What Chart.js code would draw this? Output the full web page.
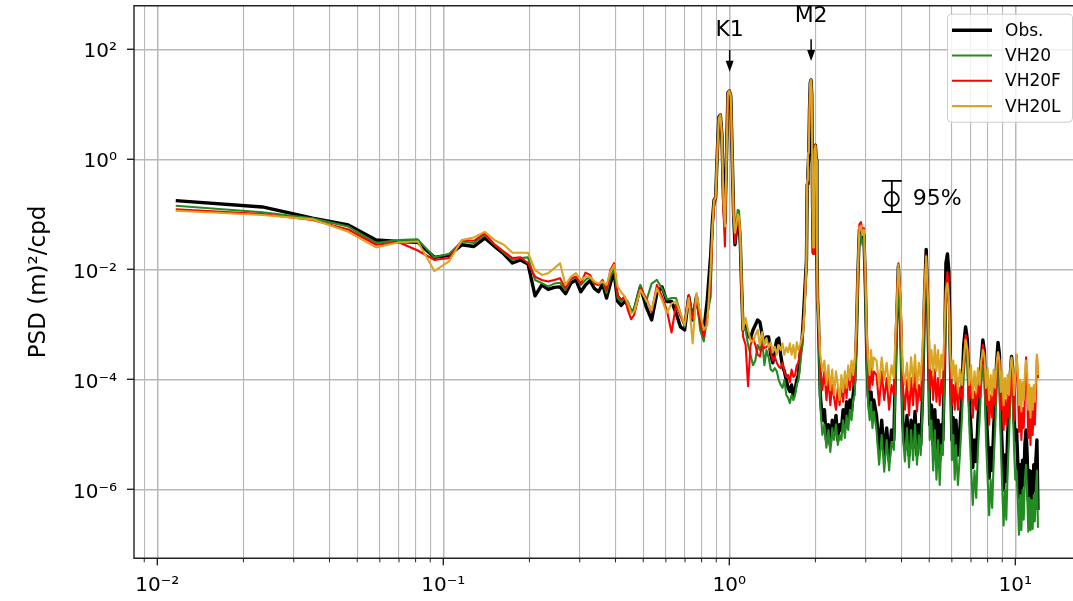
<!DOCTYPE html>
<html>
<head>
<meta charset="utf-8">
<script src="https://cdn.jsdelivr.net/npm/chart.js@4.4.1/dist/chart.umd.min.js"></script>
<style>
  html, body { margin: 0; padding: 0; background: #fff; }
</style>
</head>
<body>
<canvas id="psd" width="1073" height="601"></canvas>
<script>
// frequencies (cpd)
const freq = [
  0.0116, 0.0233, 0.0349, 0.0465, 0.0582, 0.0698, 0.0814, 0.093, 0.1047, 0.1163,
  0.1279, 0.1396, 0.1512, 0.1628, 0.1745, 0.1861, 0.1977, 0.2093, 0.221, 0.2326,
  0.2442, 0.2559, 0.2675, 0.2791, 0.2908, 0.3024, 0.314, 0.3256, 0.3373, 0.3489,
  0.3605, 0.3722, 0.3838, 0.3954, 0.407, 0.4187, 0.4303, 0.4419, 0.4536, 0.4652,
  0.4885, 0.5117, 0.535, 0.5582, 0.5815, 0.6048, 0.628, 0.6513, 0.6745, 0.6978, 0.7211, 0.7443, 0.7676, 0.7908, 0.8141, 0.8374, 0.8606,
  0.8723, 0.8839, 0.8955, 0.9072, 0.9188, 0.9304, 0.942, 0.9537, 0.9653, 0.9769, 0.9886, 1.0002, 1.0118, 1.0234, 1.0351, 1.0467, 1.0583, 1.07, 1.0816, 1.0932, 1.1048, 1.1165,
  1.14, 1.163, 1.186, 1.21, 1.233, 1.256, 1.279, 1.303, 1.326, 1.349, 1.372, 1.396, 1.419, 1.442, 1.465, 1.489, 1.512, 1.535, 1.558, 1.582, 1.605, 1.628, 1.651, 1.675, 1.698, 1.721, 1.744, 1.768, 1.791, 1.814, 1.837,
  1.861, 1.872, 1.884, 1.896, 1.907, 1.919, 1.93, 1.942, 1.954, 1.965, 1.977, 1.989, 2.0, 2.012, 2.024, 2.035, 2.047,
  2.08, 2.115, 2.15, 2.185, 2.22, 2.255, 2.29, 2.325, 2.36, 2.395, 2.43, 2.465, 2.5, 2.535, 2.57, 2.605, 2.64, 2.675, 2.71, 2.745, 2.78, 2.815, 2.85, 2.885, 2.92, 2.955, 2.99, 3.025, 3.06, 3.095, 3.13, 3.165, 3.2,
  3.27, 3.34, 3.41, 3.48, 3.55, 3.62, 3.69, 3.76, 3.83, 3.9, 3.97, 4.04, 4.11, 4.18, 4.25, 4.32, 4.39, 4.46, 4.53, 4.6, 4.67, 4.74, 4.81, 4.88, 4.95, 5.02, 5.09, 5.16, 5.23, 5.3, 5.37, 5.44, 5.51, 5.58, 5.65, 5.72, 5.79, 5.86, 5.93, 6.0, 6.07, 6.14,
  6.2, 6.3, 6.4, 6.5, 6.6, 6.7, 6.8, 6.9, 7.0, 7.1, 7.2, 7.3, 7.4, 7.5, 7.6, 7.7, 7.8, 7.9, 8.0, 8.1,
  8.2, 8.3, 8.4, 8.5, 8.6, 8.7, 8.8, 8.9, 9.0, 9.1, 9.2, 9.3, 9.4, 9.5, 9.6, 9.7, 9.8, 9.9, 10.0, 10.1,
  10.2, 10.3, 10.4, 10.5, 10.6, 10.7, 10.8, 10.9, 11.0, 11.1, 11.2, 11.3, 11.4, 11.5, 11.6, 11.7, 11.8, 11.9, 12.0
];

// PSD (m)^2/cpd
const obs = [
  0.177, 0.136, 0.085, 0.064, 0.034, 0.032, 0.031, 0.0165, 0.018, 0.028,
  0.026, 0.037, 0.026, 0.019, 0.013, 0.0148, 0.0125, 0.0033, 0.0052, 0.0043,
  0.0047, 0.0048, 0.0036, 0.0056, 0.0064, 0.0039, 0.0052, 0.0062, 0.0045, 0.0039,
  0.0054, 0.003, 0.0055, 0.009, 0.0026, 0.0022, 0.0026, 0.0023, 0.0017, 0.0018,
  0.0048, 0.0021, 0.0012, 0.0037, 0.0048, 0.0026, 0.0026, 0.0016, 9e-4, 7.9e-4, 0.0032, 0.0012, 0.0032, 0.0012, 7.4e-4, 0.0028, 0.018,
  0.072, 0.18, 0.2, 1.2, 5.8, 6.4, 2.8, 0.2, 0.07, 1.0, 16, 17.5, 14, 1.2, 0.1, 0.028, 0.052, 0.079, 0.072, 0.028, 0.0042, 7.9e-4,
  9.7e-4, 6.4e-4, 5.6e-4, 7.9e-4, 9.7e-4, 0.0012, 0.0011, 6.4e-4, 4.6e-4, 5.9e-4, 5.9e-4, 2.8e-4, 2e-4, 3.4e-4, 5.2e-4, 5.6e-4, 2.8e-4, 1.7e-4, 1.4e-4, 9.7e-5, 7e-5, 6e-5, 7.9e-5, 4.7e-5, 6.4e-5, 9.7e-5, 1.2e-4, 2.8e-4, 4.2e-4, 0.0012, 0.0042,
  0.0148, 0.35, 0.6, 1.2, 7.9, 25, 27.7, 15, 0.18, 0.02, 0.18, 1.5, 1.8, 0.97, 0.02, 0.0028, 0.0015,
  5.2e-5, 1.8e-5, 2.8e-5, 7.9e-6, 1.5e-5, 6.4e-6, 1.8e-5, 1.1e-5, 2.2e-5, 7.9e-6, 1.5e-5, 1.2e-5, 2.8e-5, 1.3e-5, 3.9e-5, 1.8e-5, 4.2e-5, 2.6e-5, 5.2e-5, 9.7e-5,
  5.2e-4, 0.0079, 0.052, 0.056, 0.037, 0.042, 0.0052, 2.8e-4, 5.2e-5, 2.8e-5, 5.9e-5, 2.2e-5, 4.2e-5,
  2.2e-5, 5.2e-6, 1.8e-5, 4.2e-6, 1.3e-5, 3.4e-6, 1.2e-5, 7.9e-6, 5.2e-4, 0.0115, 0.0012, 1.8e-5, 5.2e-6, 2.2e-5, 4.2e-6, 1.8e-5, 5.7e-6, 2.6e-5, 4.2e-6, 1.5e-5,
  6.4e-6, 5.2e-5, 0.0028, 0.023, 0.0015, 1.5e-5, 3.4e-5, 6.4e-6, 2.8e-5, 5.2e-6, 1.8e-5, 3.4e-6, 1.5e-5, 7.9e-6, 1.5e-4, 0.013, 0.019, 0.0089, 2.2e-4, 7.9e-6, 2e-5, 3.8e-6,
  1.8e-5, 4.2e-6, 1.2e-5, 5.2e-5, 4.2e-4, 9e-4, 5.2e-4, 4.2e-5, 1.2e-5, 2.5e-6, 7.9e-6, 3.2e-6, 1.8e-5, 5.2e-5, 2.2e-4, 5.2e-4, 3.1e-4, 2.8e-5, 7.9e-6, 1.6e-6,
  5.7e-6, 2.2e-6, 1.3e-5, 4.2e-5, 2e-4, 4.7e-4, 2.8e-4, 2.2e-5, 5.2e-6, 9.7e-7, 4.2e-6, 1.4e-6, 9.7e-6, 2.8e-5, 1.2e-4, 2.6e-4, 1.5e-4, 1.8e-5, 7.9e-6, 1.2e-5,
  3.2e-6, 7e-7, 2.8e-6, 7.9e-7, 3.4e-6, 1.2e-6, 6.4e-6, 1.2e-5, 4.2e-6, 6.4e-7, 2.2e-6, 4.6e-7, 2.1e-6, 6.4e-7, 2.8e-6, 9.7e-7, 3.4e-6, 7.9e-6, 4.2e-7
];

const vh20 = [
  0.143, 0.109, 0.085, 0.06, 0.03, 0.034, 0.035, 0.0165, 0.019, 0.032,
  0.03, 0.042, 0.028, 0.02, 0.0148, 0.016, 0.0165, 0.0064, 0.0056, 0.0049,
  0.0055, 0.0057, 0.0042, 0.0064, 0.0073, 0.0052, 0.0064, 0.0073, 0.0055, 0.0052,
  0.006, 0.0037, 0.0073, 0.0104, 0.003, 0.0026, 0.003, 0.0026, 0.0018, 0.0019,
  0.0052, 0.0026, 0.0055, 0.0064, 0.0045, 0.0028, 0.003, 0.003, 0.0016, 9e-4, 0.0034, 0.00128, 0.0034, 7.9e-4, 4.9e-4, 0.0015, 0.0032,
  0.048, 0.16, 0.19, 1.1, 5.5, 6.2, 2.8, 0.16, 0.05, 0.9, 15, 17.5, 14, 1.2, 0.1, 0.04, 0.07, 0.12, 0.115, 0.042, 0.005, 9e-4,
  7.9e-4, 4.2e-4, 2.8e-4, 1.8e-4, 2.2e-4, 4.2e-4, 3.4e-4, 5.2e-4, 1.8e-4, 3.4e-4, 2.5e-4, 1.5e-4, 1.4e-4, 1.6e-4, 1.4e-4, 9.7e-5, 7.9e-5, 7e-5, 9.7e-5, 5.2e-5, 4.6e-5, 3.7e-5, 5.2e-5, 4.2e-5, 5.2e-5, 7.9e-5, 9.7e-5, 1.8e-4, 3.4e-4, 7.9e-4, 0.0028,
  0.012, 0.4, 1.2, 1.3, 7.5, 24, 27, 15, 0.17, 0.021, 0.17, 1.4, 1.7, 0.95, 0.019, 0.0026, 0.0014,
  3.4e-5, 9.7e-6, 1.5e-5, 5.7e-6, 1.2e-5, 4.8e-6, 1.3e-5, 7.9e-6, 1.5e-5, 6.4e-6, 9.7e-6, 7.9e-6, 1.8e-5, 8.6e-6, 2.2e-5, 1.2e-5, 2.8e-5, 1.8e-5, 4.2e-5, 5.2e-5,
  3.4e-4, 0.0052, 0.037, 0.042, 0.028, 0.028, 0.0034, 1.8e-4, 3.4e-5, 1.8e-5, 3.9e-5, 1.3e-5, 2.6e-5,
  1.2e-5, 2.8e-6, 9.7e-6, 2.1e-6, 7.9e-6, 2.2e-6, 7.3e-6, 5.2e-6, 2.8e-4, 0.0079, 6.4e-4, 1.1e-5, 3.2e-6, 1.3e-5, 2.5e-6, 1.2e-5, 3.4e-6, 1.5e-5, 2.8e-6, 9.7e-6,
  4.2e-6, 3.4e-5, 0.0018, 0.013, 9.7e-4, 7.9e-6, 1.8e-5, 2.2e-6, 1.2e-5, 1.5e-6, 7.9e-6, 1.2e-6, 6.4e-6, 4.2e-6, 9.7e-5, 0.0028, 0.0042, 0.0022, 1.5e-4, 3.4e-6, 9.7e-6, 1.5e-6,
  6.4e-6, 1.2e-6, 4.2e-6, 1.8e-5, 1.2e-4, 3.4e-4, 1.8e-4, 1.5e-5, 2.8e-6, 5.2e-7, 2.2e-6, 7e-7, 5.2e-6, 1.8e-5, 7.9e-5, 1.8e-4, 1.05e-4, 7.9e-6, 1.6e-6, 3.4e-7,
  1.5e-6, 4.6e-7, 3.2e-6, 1.2e-5, 6.4e-5, 1.8e-4, 9.7e-5, 6.4e-6, 1.06e-6, 2.2e-7, 9.7e-7, 2.8e-7, 2.2e-6, 7.9e-6, 4.2e-5, 1.05e-4, 5.2e-5, 5.2e-6, 1.5e-6, 2.2e-6,
  6.4e-7, 1.5e-7, 7.9e-7, 1.8e-7, 9.7e-7, 2.8e-7, 1.5e-6, 2.8e-6, 9e-7, 1.7e-7, 7e-7, 1.8e-7, 6.4e-7, 1.9e-7, 7.9e-7, 2.6e-7, 9.7e-7, 2.2e-6, 2e-7
];

const vh20f = [
  0.123, 0.101, 0.079, 0.053, 0.028, 0.031, 0.022, 0.0148, 0.016, 0.034,
  0.033, 0.045, 0.028, 0.021, 0.016, 0.0165, 0.013, 0.0073, 0.0064, 0.006,
  0.0064, 0.0069, 0.0045, 0.0069, 0.0073, 0.0055, 0.0087, 0.0079, 0.0055, 0.0052,
  0.0064, 0.0042, 0.0097, 0.0129, 0.0034, 0.0028, 0.0032, 0.0018, 0.00124, 0.0015,
  0.0045, 0.003, 0.0017, 0.0052, 0.0032, 0.0018, 7.1e-4, 0.0023, 0.0014, 9.7e-4, 0.0034, 0.00128, 0.0032, 0.00105, 5.9e-4, 0.00128, 0.0055,
  0.042, 0.14, 0.18, 1.1, 5.6, 6.3, 2.8, 0.12, 0.026, 0.9, 15, 17.5, 14, 1.2, 0.1, 0.03, 0.06, 0.085, 0.079, 0.028, 0.0035, 6e-4,
  4.2e-4, 7.5e-5, 4.2e-4, 5.6e-4, 4.2e-4, 2.8e-4, 2.6e-4, 4.2e-4, 3.7e-4, 3.9e-4, 4.2e-4, 3.1e-4, 2.2e-4, 2.6e-4, 2e-4, 1.7e-4, 1.6e-4, 2e-4, 1.4e-4, 1.1e-4, 1.2e-4, 8.8e-5, 1.5e-4, 1.1e-4, 1.2e-4, 1.8e-4, 2e-4, 3.4e-4, 5.2e-4, 9.7e-4, 0.0028,
  0.013, 0.4, 1.2, 1.3, 7.7, 25, 27.5, 15, 0.18, 0.019, 0.18, 1.5, 1.8, 0.97, 0.016, 0.0028, 0.0015,
  1.8e-4, 6.4e-5, 1.4e-4, 4.2e-5, 1.05e-4, 3.4e-5, 7.9e-5, 4.6e-5, 2.8e-5, 7e-5, 3.4e-5, 7.9e-5, 3.9e-5, 9.7e-5, 4.6e-5, 1.4e-4, 6.4e-5, 1.5e-4, 7.9e-5, 1.5e-4,
  6.4e-4, 0.0089, 0.066, 0.072, 0.048, 0.056, 0.0079, 5.2e-4, 1.4e-4, 6.4e-5, 1.8e-4, 7.9e-5, 1.4e-4,
  1.2e-4, 3.4e-5, 1.4e-4, 4.2e-5, 1.05e-4, 2.8e-5, 7.9e-5, 5.2e-5, 9.7e-4, 0.0129, 0.0022, 7.9e-5, 2.8e-5, 9.7e-5, 2.2e-5, 1.05e-4, 3.4e-5, 1.4e-4, 2.6e-5, 7.9e-5,
  4.2e-5, 2.2e-4, 0.0034, 0.018, 0.0022, 6.4e-5, 1.4e-4, 4.2e-5, 1.5e-4, 3.9e-5, 1.05e-4, 3.4e-5, 9.7e-5, 5.2e-5, 4.2e-4, 0.0052, 0.0089, 0.0039, 1.5e-4, 3.4e-5, 7.9e-5, 2.8e-5,
  9.7e-5, 2.8e-5, 7e-5, 4.2e-5, 1.8e-4, 6.4e-4, 3.7e-4, 4.2e-5, 9.7e-5, 2e-5, 5.9e-5, 2.8e-5, 7.9e-5, 4.6e-5, 1.5e-4, 4.2e-4, 2.8e-4, 3.4e-5, 7.9e-5, 1.5e-5,
  5.2e-5, 2e-5, 7e-5, 3.4e-5, 1.4e-4, 3.1e-4, 2e-4, 2.8e-5, 5.9e-5, 1.2e-5, 4.2e-5, 1.5e-5, 5.2e-5, 2e-5, 7.9e-5, 2.2e-4, 1.05e-4, 1.8e-5, 7.9e-5, 2.8e-4,
  9.7e-5, 1.1e-5, 3.9e-5, 7.9e-6, 3e-5, 1.3e-5, 5.2e-5, 2.5e-4, 7.9e-5, 8.6e-6, 3.4e-5, 6.4e-6, 2.8e-5, 9.7e-6, 3.9e-5, 1.5e-5, 5.2e-5, 2.8e-4, 1.05e-4
];

const vh20l = [
  0.116, 0.097, 0.081, 0.048, 0.025, 0.031, 0.032, 0.0093, 0.014, 0.034,
  0.038, 0.048, 0.034, 0.028, 0.02, 0.02, 0.02, 0.0097, 0.0079, 0.0085,
  0.0104, 0.0129, 0.0052, 0.0073, 0.0085, 0.0064, 0.0073, 0.0073, 0.006, 0.0055,
  0.006, 0.0052, 0.009, 0.012, 0.0048, 0.0039, 0.0032, 0.0024, 0.0016, 0.0017,
  0.0042, 0.0028, 0.0018, 0.0045, 0.0028, 0.0016, 0.0024, 0.0026, 0.0016, 9.7e-4, 0.003, 4.5e-4, 0.0037, 0.0016, 7.9e-4, 9.7e-4, 0.011,
  0.056, 0.18, 0.2, 1.2, 5.6, 6.4, 2.8, 0.18, 0.06, 0.95, 16, 17.5, 14, 1.2, 0.1, 0.046, 0.064, 0.1, 0.09, 0.034, 0.0045, 8e-4,
  0.0013, 7.9e-4, 5.2e-4, 4.7e-4, 6.4e-4, 7.9e-4, 4.2e-4, 7.2e-4, 4.2e-4, 5.6e-4, 3.8e-4, 4.7e-4, 3.1e-4, 3.9e-4, 2.8e-4, 4.2e-4, 3.4e-4, 4.5e-4, 2.8e-4, 3.8e-4, 3.1e-4, 4.5e-4, 2.8e-4, 4.2e-4, 2.4e-4, 4.7e-4, 3.4e-4, 4.2e-4, 5.6e-4, 7.9e-4, 0.0022,
  0.016, 0.42, 1.3, 1.3, 7.9, 25, 27.7, 15, 0.18, 0.025, 0.18, 1.5, 1.8, 0.97, 0.02, 0.0028, 0.0016,
  2.8e-4, 1.4e-4, 2.2e-4, 7.9e-5, 1.8e-4, 6.4e-5, 1.5e-4, 5.2e-5, 1.4e-4, 7.9e-5, 4.2e-5, 1.2e-4, 5.9e-5, 1.4e-4, 7e-5, 1.8e-4, 9.7e-5, 2.2e-4, 1.2e-4, 2.2e-4,
  7.9e-4, 0.0097, 0.056, 0.062, 0.042, 0.052, 0.0097, 6.4e-4, 2.2e-4, 1.2e-4, 3.4e-4, 1.5e-4, 2.5e-4,
  2.2e-4, 7.9e-5, 2.5e-4, 9.7e-5, 2e-4, 7e-5, 1.8e-4, 1.05e-4, 0.0012, 0.012, 0.0028, 1.6e-4, 7.9e-5, 2e-4, 6.4e-5, 2.5e-4, 8.9e-5, 2.8e-4, 7e-5, 2e-4,
  9.7e-5, 4.2e-4, 0.0042, 0.017, 0.0028, 1.6e-4, 3.4e-4, 1.2e-4, 4.2e-4, 1.4e-4, 3.4e-4, 1.05e-4, 2.8e-4, 1.5e-4, 7.9e-4, 0.0042, 0.0056, 0.0028, 2.8e-4, 1.05e-4, 2.2e-4, 8.9e-5,
  1.8e-4, 5.9e-5, 1.5e-4, 7.9e-5, 2.2e-4, 5.2e-4, 3.4e-4, 7.9e-5, 1.8e-4, 4.6e-5, 1.4e-4, 5.9e-5, 1.6e-4, 7.9e-5, 2.2e-4, 3.4e-4, 2.5e-4, 7e-5, 1.6e-4, 4.2e-5,
  1.2e-4, 5.2e-5, 1.5e-4, 7e-5, 2e-4, 3.1e-4, 2.2e-4, 5.9e-5, 1.4e-4, 3.4e-5, 1.05e-4, 4.6e-5, 1.2e-4, 5.2e-5, 1.5e-4, 2.5e-4, 1.6e-4, 5.2e-5, 1.2e-4, 2.8e-4,
  1.4e-4, 3.4e-5, 9.7e-5, 2.6e-5, 8.9e-5, 4.2e-5, 1.2e-4, 2.2e-4, 1.4e-4, 2.8e-5, 7.9e-5, 2e-5, 7e-5, 2.8e-5, 7.9e-5, 3.9e-5, 9.7e-5, 2.8e-4, 1.2e-4
];

// axis ticks
const xMajor = [0.01, 0.1, 1, 10];
const xMajorText = ["10⁻²", "10⁻¹", "10⁰", "10¹"];
const yMajor = [100, 1, 0.01, 1e-4, 1e-6];
const yMajorText = ["10²", "10⁰", "10⁻²", "10⁻⁴", "10⁻⁶"];

// tidal constituent markers
const tideNames = ["K1", "M2"];
const tideFreq = [1.0027, 1.932];
const arrowTip = [39, 61];
const arrowTail = [97, 152];
const tideLabelY = [221, 392];

// 95% confidence bar
const ciFreq = 3.7;
const ciMid = 0.19;
const ciLow = 0.11;
const ciHigh = 0.404;

const X_MIN = 0.008288, X_MAX = 15.91;
const Y_MIN = 5.57e-8, Y_MAX = 620;
const FONT = "'DejaVu Sans', sans-serif";

function toXY(vals) {
  return freq.map((f, i) => ({ x: f, y: vals[i] }));
}

function findLabel(v, majors, texts) {
  for (let i = 0; i < majors.length; i++) {
    if (Math.abs(v - majors[i]) < majors[i] * 1e-6) return texts[i];
  }
  return "";
}

const xTicks = [];
for (let e = -3; e <= 1; e++) {
  for (let m = 1; m <= 9; m++) {
    const v = m * Math.pow(10, e);
    if (v >= X_MIN && v <= X_MAX) xTicks.push({ value: v, major: m === 1 });
  }
}

const overlay = {
  id: "overlay",
  afterDraw(chart) {
    const ctx = chart.ctx;
    const a = chart.chartArea;
    const x = chart.scales.x, y = chart.scales.y;
    ctx.save();

    // spines
    ctx.strokeStyle = "#222";
    ctx.lineWidth = 1.4;
    ctx.beginPath();
    ctx.moveTo(a.right + 2, a.top);
    ctx.lineTo(a.left, a.top);
    ctx.lineTo(a.left, a.bottom);
    ctx.lineTo(a.right + 2, a.bottom);
    ctx.stroke();

    // tick marks
    x.ticks.forEach(t => {
      const px = x.getPixelForValue(t.value);
      ctx.lineWidth = t.major ? 1.4 : 1.0;
      ctx.beginPath();
      ctx.moveTo(px, a.bottom);
      ctx.lineTo(px, a.bottom + (t.major ? 7 : 4));
      ctx.stroke();
    });
    y.ticks.forEach(t => {
      const py = y.getPixelForValue(t.value);
      ctx.lineWidth = 1.4;
      ctx.beginPath();
      ctx.moveTo(a.left - 7, py);
      ctx.lineTo(a.left, py);
      ctx.stroke();
    });

    // K1 / M2 arrows
    ctx.fillStyle = "#000";
    ctx.strokeStyle = "#000";
    ctx.font = "22px " + FONT;
    ctx.textAlign = "center";
    ctx.textBaseline = "middle";
    tideNames.forEach((name, i) => {
      const px = x.getPixelForValue(tideFreq[i]);
      const tip = y.getPixelForValue(arrowTip[i]);
      const tail = y.getPixelForValue(arrowTail[i]);
      ctx.lineWidth = 1.5;
      ctx.beginPath();
      ctx.moveTo(px, tail);
      ctx.lineTo(px, tip - 9);
      ctx.stroke();
      ctx.beginPath();
      ctx.moveTo(px - 4, tip - 11);
      ctx.lineTo(px + 4, tip - 11);
      ctx.lineTo(px, tip);
      ctx.closePath();
      ctx.fill();
      ctx.fillText(name, px, y.getPixelForValue(tideLabelY[i]));
    });

    // confidence interval
    const cx = x.getPixelForValue(ciFreq);
    const cTop = y.getPixelForValue(ciHigh);
    const cBot = y.getPixelForValue(ciLow);
    const cMid = y.getPixelForValue(ciMid);
    ctx.lineWidth = 1.8;
    ctx.beginPath();
    ctx.moveTo(cx, cTop); ctx.lineTo(cx, cBot);
    ctx.moveTo(cx - 10, cTop); ctx.lineTo(cx + 10, cTop);
    ctx.moveTo(cx - 10, cBot); ctx.lineTo(cx + 10, cBot);
    ctx.stroke();
    ctx.beginPath();
    ctx.arc(cx, cMid, 7, 0, Math.PI * 2);
    ctx.stroke();
    ctx.textAlign = "left";
    ctx.fillText("95%", cx + 21, cMid);

    // legend
    const lw = 125, lh = 108;
    const lx = a.right - lw - 1, ly = a.top + 8;
    ctx.fillStyle = "rgba(255,255,255,0.8)";
    ctx.strokeStyle = "#cccccc";
    ctx.lineWidth = 1;
    ctx.beginPath();
    if (ctx.roundRect) ctx.roundRect(lx + 0.5, ly + 0.5, lw, lh, 4);
    else ctx.rect(lx + 0.5, ly + 0.5, lw, lh);
    ctx.fill();
    ctx.stroke();
    ctx.font = "17px " + FONT;
    ctx.textAlign = "left";
    chart.data.datasets.forEach((ds, i) => {
      const ry = ly + 16.5 + i * 25.3;
      ctx.strokeStyle = ds.borderColor;
      ctx.lineWidth = ds.borderWidth;
      ctx.beginPath();
      ctx.moveTo(lx + 5, ry);
      ctx.lineTo(lx + 45, ry);
      ctx.stroke();
      ctx.fillStyle = "#000";
      ctx.fillText(ds.label, lx + 58, ry + 1);
    });
    ctx.restore();
  }
};

Chart.defaults.color = "#000";
Chart.defaults.font.family = FONT;

new Chart(document.getElementById("psd"), {
  type: "line",
  data: {
    datasets: [
      { label: "Obs.", data: toXY(obs), borderColor: "#000000", borderWidth: 3.4, order: 4 },
      { label: "VH20", data: toXY(vh20), borderColor: "#228b22", borderWidth: 2.1, order: 3 },
      { label: "VH20F", data: toXY(vh20f), borderColor: "#ff0000", borderWidth: 2.1, order: 2 },
      { label: "VH20L", data: toXY(vh20l), borderColor: "#daa520", borderWidth: 2.1, order: 1 }
    ]
  },
  options: {
    responsive: false,
    animation: false,
    events: [],
    layout: { padding: { top: 5.7, left: 0, right: 0, bottom: 0 } },
    elements: {
      point: { radius: 0 },
      line: { tension: 0, borderJoinStyle: "round", fill: false }
    },
    plugins: { legend: { display: false }, tooltip: { enabled: false } },
    scales: {
      x: {
        type: "logarithmic",
        min: X_MIN,
        max: X_MAX,
        afterBuildTicks: s => { s.ticks = xTicks.map(t => ({ value: t.value, major: t.major })); },
        afterFit: s => { s.height = 42.7; s.paddingLeft = 0; s.paddingRight = 0; },
        border: { display: false },
        grid: {
          drawTicks: false,
          color: "#b8b8b8",
          lineWidth: c => (c.tick && c.tick.major ? 1.5 : 1.1)
        },
        ticks: {
          autoSkip: false,
          maxRotation: 0,
          padding: 15,
          font: { size: 20 },
          callback: v => findLabel(v, xMajor, xMajorText)
        }
      },
      y: {
        type: "logarithmic",
        min: Y_MIN,
        max: Y_MAX,
        afterBuildTicks: s => { s.ticks = yMajor.map(v => ({ value: v, major: true })); },
        afterFit: s => { s.width = 134; s.paddingTop = 0; s.paddingBottom = 0; },
        border: { display: false },
        grid: { drawTicks: false, color: "#b8b8b8", lineWidth: 1.5 },
        ticks: {
          autoSkip: false,
          padding: 17,
          labelOffset: 3,
          font: { size: 20 },
          callback: v => findLabel(v, yMajor, yMajorText)
        },
        title: {
          display: true,
          text: "PSD (m)²/cpd",
          font: { size: 23 },
          padding: { top: 25, bottom: 0 }
        }
      }
    }
  },
  plugins: [overlay]
});
</script>
</body>
</html>
